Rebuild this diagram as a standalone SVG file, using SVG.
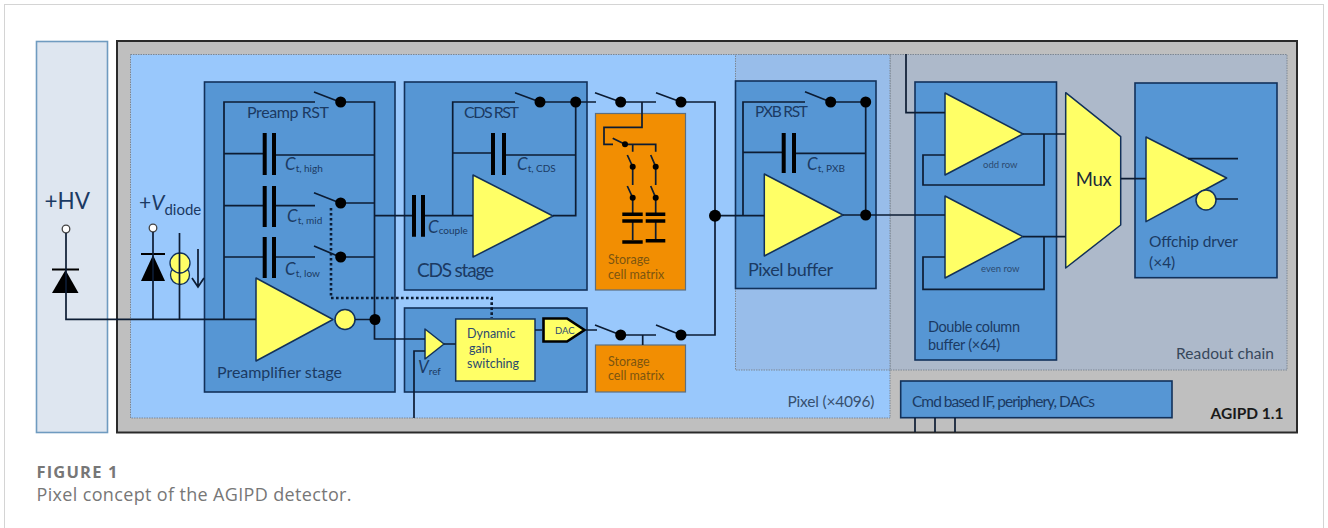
<svg xmlns="http://www.w3.org/2000/svg" width="1328" height="528" viewBox="0 0 1328 528">
<style>
text{font-family:"Lato","Open Sans","Liberation Sans",sans-serif;fill:#1b3a63}
.blk{fill:#5696d4;stroke:#12315a;stroke-width:1.6}
.amp{fill:#ffff66;stroke:#12315a;stroke-width:1.5;stroke-linejoin:round}
.org{fill:#f28e02;stroke:#5c6f80;stroke-width:1.2}
.w{fill:none;stroke:#0c1c33;stroke-width:1.7}
.d{fill:#000}
.plate{fill:none;stroke:#000;stroke-width:4}
.dots{fill:none;stroke:#0c1c33;stroke-width:2.6;stroke-dasharray:2.6 2.4}
.region{stroke:#7c8794;stroke-width:1;stroke-dasharray:1.5 1}
.s15{font-size:16px}.s14{font-size:15.5px}.s12{font-size:12.500px;fill:#2c4a6e}
.st{font-size:12.500px;fill:#7c5510}
.sm{font-size:9.500px;fill:#2c4a70}
.ci{font-size:17px;font-style:italic}
.sb{font-size:10px}
.cap{font-family:"Open Sans","Noto Sans",sans-serif;fill:#777}
</style>
<rect id="page-frame" x="4.500" y="4.500" width="1319" height="530" fill="#fff" stroke="#d4d4d4" stroke-width="1"/>
<g id="hv-panel">
<rect x="36.500" y="41.500" width="71" height="391" fill="#dee6f0" stroke="#6f9bc0" stroke-width="1.600"/>
<text x="44.500" y="209" font-size="22.500">+HV</text>
<circle cx="66" cy="229" r="3.800" fill="#fff" stroke="#444" stroke-width="1.300"/>
<polygon points="65.500,270 52,293 78.500,293" fill="#000"/>
<rect x="52" y="268.500" width="27" height="2" fill="#000"/>
</g>
<g id="chip">
<rect x="117" y="41" width="1180" height="391.500" fill="#bfbfbf" stroke="#2a2a2a" stroke-width="2"/>
<text x="1210.500" y="419" font-size="15.500" font-weight="700" style="fill:#1a1a1a" textLength="73">AGIPD 1.1</text>
</g>
<g id="pixel-region">
<rect class="region" x="130.500" y="54.500" width="759.500" height="363.500" fill="#99c8fc"/>
<text x="787.500" y="406.500" class="s14" style="fill:#37506f" textLength="87">Pixel (×4096)</text>
</g>
<g id="readout-region">
<rect x="890" y="54.500" width="397" height="315.500" fill="#adb9ca" class="region"/>
<rect x="735.500" y="54.500" width="154.500" height="315.500" fill="#98bdea" class="region"/>
<text x="1176" y="359" class="s14" style="fill:#37475a" textLength="98">Readout chain</text>
</g>
<g id="vdiode">
<text x="139" y="210" font-size="21">+<tspan font-style="italic">V</tspan><tspan font-size="15" dy="5">diode</tspan></text>
<circle cx="153" cy="228" r="3.800" fill="#fff" stroke="#444" stroke-width="1.300"/>
<polygon points="153,255 141,281 165,281" fill="#000"/>
<rect x="141" y="253" width="24" height="2" fill="#000"/>
</g>
<g id="current-source">
<circle cx="180" cy="275" r="9.500" fill="#ffff66" stroke="#12315a" stroke-width="1.300"/>
<circle cx="180" cy="263" r="10" fill="#ffff66" stroke="#12315a" stroke-width="1.300"/>
</g>
<g id="preamp-stage">
<rect class="blk" x="204.500" y="82" width="190.500" height="310"/>
<text x="247" y="118" class="s15" textLength="82">Preamp RST</text>
<text x="285" y="170"><tspan class="ci">C</tspan><tspan class="sb" dy="2">t, high</tspan></text>
<text x="287" y="222"><tspan class="ci">C</tspan><tspan class="sb" dy="2">t, mid</tspan></text>
<text x="285" y="275"><tspan class="ci">C</tspan><tspan class="sb" dy="2">t, low</tspan></text>
<text x="217" y="378" class="s15" textLength="125">Preamplifier stage</text>
<polygon class="amp" points="256,278 256,361 333,319.500"/>
<circle class="amp" cx="345" cy="319.500" r="10"/>
</g>
<g id="cds-stage">
<rect class="blk" x="404.500" y="82" width="182.500" height="208"/>
<text x="464" y="117.500" class="s15" textLength="55">CDS RST</text>
<text x="517" y="170"><tspan class="ci">C</tspan><tspan class="sb" dy="2">t, CDS</tspan></text>
<text x="428" y="233"><tspan class="ci">C</tspan><tspan class="sb" dy="1">couple</tspan></text>
<text x="417" y="277" font-size="19" textLength="77">CDS stage</text>
<polygon class="amp" points="473,175 473,257 553,216"/>
</g>
<g id="gain-switching">
<rect class="blk" x="404.500" y="308" width="182.500" height="84"/>
<polygon class="amp" points="425,329 425,359 444,344"/>
<text x="418" y="373"><tspan class="ci">V</tspan><tspan class="sb" dy="2">ref</tspan></text>
<rect x="455.700" y="319" width="79.300" height="62" fill="#ffff66" stroke="#12315a" stroke-width="1.500"/>
<text x="467" y="338" class="s12">Dynamic</text>
<text x="469" y="353" class="s12">gain</text>
<text x="467" y="368" class="s12">switching</text>
<polygon points="543.500,318.500 567,318.500 584.500,330 567,341.500 543.500,341.500" fill="#ffff66" stroke="#000" stroke-width="2.600"/>
<text x="555" y="334" class="sm">DAC</text>
</g>
<g id="storage-top">
<rect class="org" x="595.500" y="113.500" width="90" height="176.500"/>
<text x="608" y="264" class="st">Storage</text>
<text x="608" y="279" class="st">cell matrix</text>
</g>
<g id="storage-bottom">
<rect class="org" x="595.500" y="345" width="90" height="47"/>
<text x="608" y="366" class="st">Storage</text>
<text x="608" y="380" class="st">cell matrix</text>
</g>
<g id="pixel-buffer">
<rect class="blk" x="735.500" y="81" width="140.500" height="207.500"/>
<text x="755" y="116.500" class="s14" textLength="53">PXB RST</text>
<text x="807" y="170"><tspan class="ci">C</tspan><tspan class="sb" dy="2">t, PXB</tspan></text>
<text x="748" y="276" font-size="18" textLength="85">Pixel buffer</text>
<polygon class="amp" points="764.300,174 764.300,256 843,215"/>
</g>
<g id="double-column-buffer">
<rect class="blk" x="915" y="82" width="141.500" height="278"/>
<polygon class="amp" points="945,93 945,175 1023,134"/>
<text x="983" y="168" class="sm">odd row</text>
<polygon class="amp" points="945,196 945,278 1023,236.700"/>
<text x="981" y="272" class="sm">even row</text>
<text x="928" y="331.500" font-size="14.500" textLength="92">Double column</text>
<text x="928" y="350" font-size="14.500" textLength="72">buffer (×64)</text>
</g>
<g id="mux">
<polygon class="amp" points="1065.700,92.700 1120.700,136.700 1120.700,225 1065.700,268"/>
<text x="1075.700" y="186" font-size="18.500" style="fill:#1a2a3a" textLength="36">Mux</text>
</g>
<g id="offchip-driver">
<rect class="blk" x="1135" y="83" width="142" height="194.700"/>
<polygon class="amp" points="1146,137 1146,221.700 1226.700,178"/>
<circle class="amp" cx="1206" cy="200" r="10"/>
<text x="1149" y="247.300" class="s14" textLength="89">Offchip drver</text>
<text x="1149" y="268" class="s14">(×4)</text>
</g>
<g id="cmd-if">
<rect class="blk" x="900.700" y="381" width="271.300" height="36.700"/>
<text x="912" y="407" class="s14" textLength="183">Cmd based IF, periphery, DACs</text>
</g>
<g id="connectors">
<path class="w" d="M66 233V319.300H256M153 232V319.300M179.500 233V319.300"/>
<path class="w" d="M198 249V287M192 278L198 287L204 278"/>
<path class="w" d="M224 319.300V102H315M314 92L340 102M340 102H374.500V339H425M224 153.700H264.700M274 155H374.500M224 205.700H264.700M274 205.700H315M314 192.700L340 203M340 203H374.500M224 257H264.700M274 257H315M314 246L340 257M340 257H374.500M355 319.500H375M374.500 215.700H414"/>
<path class="plate" d="M264.700 133V175M274 133V175M264.700 186V227M274 186V227M264.700 237V278M274 237V278"/>
<path class="dots" d="M331 208V298H491.700V318"/>
<circle class="d" cx="340.700" cy="102" r="5.500"/><circle class="d" cx="340.700" cy="203" r="5.500"/><circle class="d" cx="340.700" cy="257" r="5.500"/><circle class="d" cx="375" cy="319.500" r="5.500"/>
<path class="w" d="M423 215.700H473M452.700 215.700V102H515M515 92.700L540 102M540 102H596M575.700 102V215.700H553M452.700 153H493M504 155H575.700"/>
<path class="plate" d="M414 195V236.700M423 195V236.700M493 133V175M504 133V175"/>
<circle class="d" cx="540" cy="102" r="5.500"/><circle class="d" cx="575.700" cy="102" r="5.500"/>
<path class="w" d="M595 92.700L620.700 102M620.700 102H656M656 92.700L681 102M681 102H715V335H681M656 325L681 335M656 335H620.700M595 325L620.700 335M585 330H597M535 330H543M444 344H455.700M414 418V351H425M642.700 335V345M715 215.700H764.300"/>
<circle class="d" cx="620.700" cy="102" r="5.500"/><circle class="d" cx="681" cy="102" r="5.500"/><circle class="d" cx="620.700" cy="335" r="5.500"/><circle class="d" cx="681" cy="335" r="5.500"/><circle class="d" cx="715" cy="215.700" r="6"/>
<path class="w" d="M642 102V127.300H604V144.300H613M612.700 138.300L625 144.300M625 144.300H655.700V151.700M632.700 144.300V151.700M627.300 155L632.700 166.700V185M627.300 186L632.700 197.700V213M650.700 155L655.700 166.700V185M650.700 186L655.700 197.700V213M632.700 221V240M655.700 221V239"/>
<path d="M622.300 214.300H642.700M622.300 221H642.700M622.300 242H642.700M645.700 214.300H665.300M645.700 221H665.300M645.700 240.700H665.300" fill="none" stroke="#000" stroke-width="3.500"/>
<circle class="d" cx="625" cy="144.300" r="3"/><circle class="d" cx="632.700" cy="166.700" r="3"/><circle class="d" cx="632.700" cy="197.700" r="3"/><circle class="d" cx="655.700" cy="166.700" r="3"/><circle class="d" cx="655.700" cy="197.700" r="3"/>
<path class="w" d="M743 215V102H805M805 91.700L830.700 102M830.700 102H865.700V215M743 152.300H783.700M794 153.300H865.700M843 215H945M906 54V112.700H945"/>
<path class="plate" d="M783.700 133V173M794 133V173"/>
<circle class="d" cx="830.700" cy="102" r="5.500"/><circle class="d" cx="865.700" cy="102" r="5.500"/><circle class="d" cx="865.700" cy="215" r="5.500"/>
<path class="w" d="M1023 134H1065.700M1044 134V185H923V155H945M1023 236.700H1065.700M1044 236.700V289.300H923V257H945M1120.700 178.700H1146M1188 158.700H1238M1216 199H1238M915 417.700V432M935 417.700V432M955 417.700V432"/>
</g>
<g id="caption">
<text class="cap" x="36.500" y="477.500" font-size="16.500" font-weight="700" textLength="81">FIGURE 1</text>
<text class="cap" x="36.500" y="501" font-size="18" textLength="315">Pixel concept of the AGIPD detector.</text>
</g>
</svg>
